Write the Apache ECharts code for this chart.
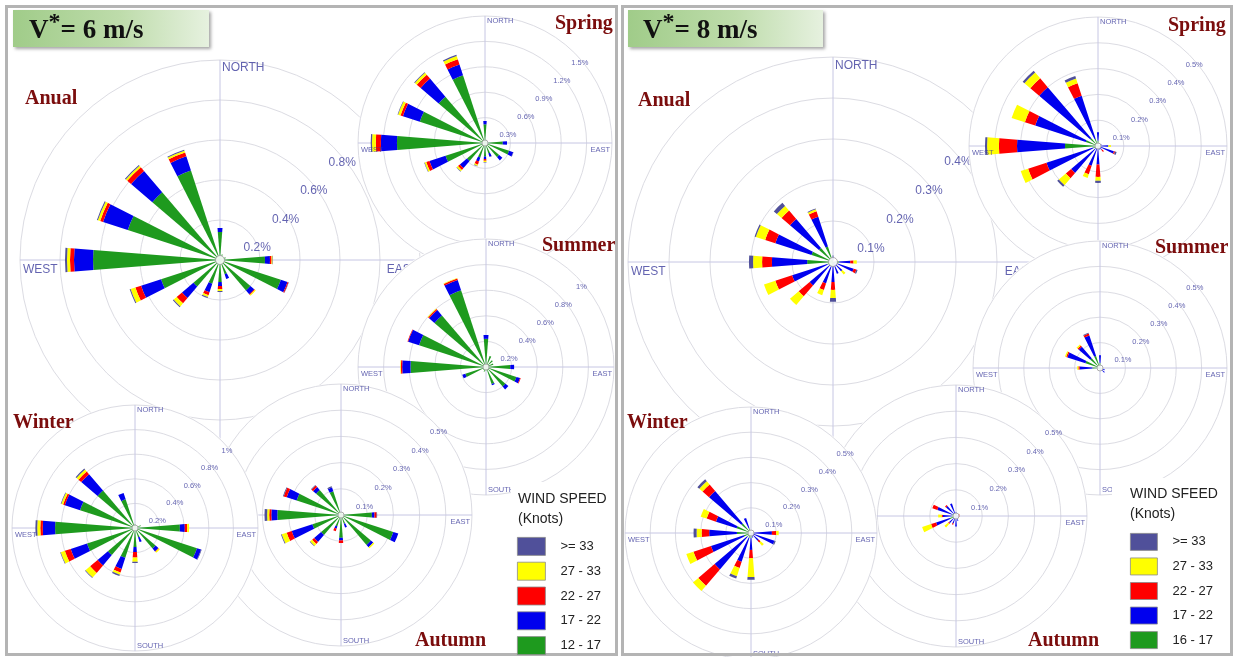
<!DOCTYPE html>
<html>
<head>
<meta charset="utf-8">
<script src="https://cdn.jsdelivr.net/npm/echarts@6/dist/echarts.min.js"></script>
<style>
html,body{margin:0;padding:0;background:#fff;}
#chart{width:1235px;height:657px;}
</style>
</head>
<body>
<div id="chart"></div>
<script>
// 16-point compass, clockwise from north
const DIRS = ['N','NNE','NE','ENE','E','ESE','SE','SSE','S','SSW','SW','WSW','W','WNW','NW','NNW'];
const DIR_KEYS = ['N','E','S','W'];
const DIR_LABELS = ['NORTH','EAST','SOUTH','WEST'];

// Wind speed classes (knots), innermost ring segment first
const CLASSES_6 = ['12 - 17','17 - 22','22 - 27','27 - 33','>= 33'];
const CLASSES_8 = ['16 - 17','17 - 22','22 - 27','27 - 33','>= 33'];
const CLASS_COLORS = ['#1e9a1e','#0000ee','#ff0000','#ffff00','#50509a'];

// Ring tick labels (% of time)
const TICKS_02 = [0.2,0.4,0.6,0.8,1];
const TICKS_03 = [0.3,0.6,0.9,1.2,1.5];
const TICKS_01 = [0.1,0.2,0.3,0.4,0.5];

// ---- V* = 6 m/s ----
// Anual
const anual6_c1 = [0.14,0.03,0.02,0.03,0.225,0.32,0.2,0.075,0.11,0.125,0.175,0.31,0.635,0.485,0.445,0.47];
const anual6_c2 = [0.02,0,0,0,0.025,0.035,0.025,0.025,0.02,0.045,0.075,0.105,0.095,0.13,0.14,0.075];
const anual6_c3 = [0,0,0,0,0.008,0.005,0.005,0,0.015,0.015,0.035,0.03,0.02,0.015,0.025,0.02];
const anual6_c4 = [0,0,0,0,0.005,0,0.005,0,0.01,0.01,0.02,0.025,0.015,0.012,0.01,0.01];
const anual6_c5 = [0,0,0,0,0.002,0.002,0,0,0.005,0.005,0.005,0.005,0.01,0.005,0.005,0.005];
// Spring
const spring6_c1 = [0.22,0.04,0.03,0.03,0.21,0.3,0.22,0.13,0.16,0.18,0.28,0.49,1.04,0.81,0.72,0.84];
const spring6_c2 = [0.04,0,0,0,0.05,0.05,0.05,0.04,0.03,0.05,0.11,0.2,0.19,0.21,0.28,0.135];
const spring6_c3 = [0,0,0,0,0,0,0,0,0.02,0.04,0.03,0.04,0.06,0.03,0.06,0.065];
const spring6_c4 = [0,0,0,0,0,0,0,0,0.015,0.015,0.02,0.02,0.045,0.03,0.03,0.04];
const spring6_c5 = [0,0,0,0,0,0.005,0,0.005,0.005,0.005,0.005,0.005,0.015,0.006,0.01,0.015];
// Summer
const summer6_c1 = [0.22,0.09,0.07,0.06,0.19,0.25,0.2,0.14,0.03,0.04,0.03,0.17,0.59,0.55,0.53,0.63];
const summer6_c2 = [0.03,0,0,0,0.03,0.03,0.03,0.01,0,0,0,0.025,0.065,0.09,0.055,0.085];
const summer6_c3 = [0,0,0,0,0,0.005,0,0,0,0,0,0,0.01,0.005,0.01,0.012];
const summer6_c4 = [0,0,0,0,0,0,0,0,0,0,0,0,0.005,0,0.005,0.005];
const summer6_c5 = [0,0,0,0,0,0,0,0,0,0,0,0,0,0,0,0];
// Autumn
const autumn6_c1 = [0.01,0.008,0.008,0.01,0.118,0.21,0.15,0.035,0.087,0.045,0.1,0.115,0.243,0.178,0.125,0.095];
const autumn6_c2 = [0,0,0,0,0.01,0.02,0.012,0.015,0.01,0.01,0.035,0.083,0.023,0.04,0.015,0.015];
const autumn6_c3 = [0,0,0,0,0.008,0,0,0,0.01,0.01,0.01,0.02,0.008,0.012,0.008,0];
const autumn6_c4 = [0,0,0,0,0,0,0.005,0,0,0,0.01,0.02,0.008,0,0,0];
const autumn6_c5 = [0,0,0,0,0.002,0,0,0,0,0,0.002,0.003,0.01,0.003,0.003,0.005];
// Winter
const winter6_c1 = [0.03,0.02,0.02,0.05,0.365,0.53,0.22,0.08,0.155,0.255,0.29,0.41,0.65,0.47,0.4,0.245];
const winter6_c2 = [0,0,0,0,0.04,0.035,0.03,0.04,0.04,0.095,0.11,0.14,0.1,0.13,0.175,0.055];
const winter6_c3 = [0,0,0,0,0.02,0,0.005,0,0.045,0.03,0.08,0.05,0.02,0.015,0.03,0];
const winter6_c4 = [0,0,0,0,0.015,0,0.01,0,0.035,0.02,0.05,0.035,0.025,0.015,0.02,0];
const winter6_c5 = [0,0,0,0,0,0.005,0,0,0.01,0.01,0.005,0.005,0.015,0.005,0.01,0];

// ---- V* = 8 m/s ----
// Anual
const anual8_c1 = [0.005,0,0,0,0.015,0.01,0.005,0.005,0.01,0.01,0.01,0.015,0.063,0.055,0.045,0.04];
const anual8_c2 = [0.008,0,0,0,0.027,0.043,0.025,0.025,0.039,0.045,0.065,0.09,0.086,0.093,0.093,0.076];
const anual8_c3 = [0,0,0,0,0.008,0.007,0,0,0.019,0.017,0.035,0.043,0.024,0.026,0.027,0.014];
const anual8_c4 = [0,0,0,0,0.008,0,0.01,0,0.02,0.013,0.028,0.029,0.022,0.024,0.015,0.005];
const anual8_c5 = [0.003,0,0,0,0,0.003,0,0,0.009,0,0,0,0.01,0.003,0.01,0.002];
// Spring
const spring8_c1 = [0.02,0.005,0.005,0.005,0.01,0.01,0,0,0.01,0.01,0.01,0.02,0.128,0.05,0.04,0.03];
const spring8_c2 = [0.033,0,0,0.01,0.03,0.055,0.02,0.015,0.062,0.07,0.127,0.19,0.186,0.206,0.26,0.175];
const spring8_c3 = [0,0,0,0,0,0.005,0.01,0,0.048,0.035,0.027,0.075,0.07,0.042,0.045,0.051];
const spring8_c4 = [0,0,0,0,0.01,0,0,0,0.015,0.015,0.036,0.03,0.046,0.054,0.03,0.019];
const spring8_c5 = [0,0,0,0,0,0.006,0,0,0.008,0,0.008,0,0.008,0,0.009,0.01];
// Summer
const summer8_c1 = [0.02,0.005,0.005,0,0.005,0.01,0.01,0,0.005,0.005,0.005,0.01,0.03,0.06,0.05,0.05];
const summer8_c2 = [0.03,0,0,0,0,0.01,0.015,0.01,0,0,0,0,0.05,0.075,0.06,0.085];
const summer8_c3 = [0,0,0,0,0,0,0,0,0,0,0,0,0.005,0.005,0.006,0.008];
const summer8_c4 = [0,0,0,0,0,0,0,0,0,0,0,0,0.005,0.005,0.006,0];
const summer8_c5 = [0,0,0,0,0,0,0,0,0,0,0,0,0,0,0,0.003];
// Autumn
const autumn8_c1 = [0.005,0,0,0,0,0,0,0,0.005,0,0.01,0.025,0.015,0.015,0.01,0.01];
const autumn8_c2 = [0.01,0.01,0.005,0.005,0.01,0.008,0.01,0.02,0.035,0.03,0.025,0.055,0.035,0.06,0.04,0.04];
const autumn8_c3 = [0,0,0,0.01,0.005,0,0,0,0,0.005,0.005,0.02,0.005,0.02,0.005,0];
const autumn8_c4 = [0,0,0,0,0,0,0,0,0,0,0.018,0.036,0.013,0,0,0];
const autumn8_c5 = [0,0,0,0,0,0,0,0,0,0,0,0,0,0,0,0];
// Winter
const winter8_c1 = [0.005,0,0,0,0.01,0.01,0,0,0.02,0.02,0.02,0.03,0.056,0.06,0.05,0.02];
const winter8_c2 = [0,0,0,0,0.073,0.088,0.04,0.02,0.047,0.1,0.17,0.137,0.11,0.086,0.169,0.043];
const winter8_c3 = [0,0,0,0,0.017,0,0.01,0,0.033,0.026,0.085,0.073,0.03,0.039,0.034,0];
const winter8_c4 = [0,0,0,0,0.01,0,0.017,0,0.075,0.034,0.028,0.03,0.02,0.025,0.017,0];
const winter8_c5 = [0,0,0,0,0,0.005,0,0,0.011,0.01,0,0,0.012,0,0.01,0];

// Rose layout, in drawing order within each panel (later ones sit on top)
const ROSES = [
  {title:'Anual',  titlePos:[25,89],   center:[220,260], radius:200, ticks:TICKS_02, big:true,  classes:CLASSES_6,
   values:[anual6_c1,anual6_c2,anual6_c3,anual6_c4,anual6_c5]},
  {title:'Spring', titlePos:[555,14],  center:[485,143], radius:127, ticks:TICKS_03, big:false, classes:CLASSES_6,
   values:[spring6_c1,spring6_c2,spring6_c3,spring6_c4,spring6_c5]},
  {title:'Summer', titlePos:[542,236], center:[486,367], radius:128, ticks:TICKS_02, big:false, classes:CLASSES_6,
   values:[summer6_c1,summer6_c2,summer6_c3,summer6_c4,summer6_c5]},
  {title:'Autumn', titlePos:[415,631], center:[341,515], radius:131, ticks:TICKS_01, big:false, classes:CLASSES_6,
   values:[autumn6_c1,autumn6_c2,autumn6_c3,autumn6_c4,autumn6_c5]},
  {title:'Winter', titlePos:[13,413],  center:[135,528], radius:123, ticks:TICKS_02, big:false, classes:CLASSES_6,
   values:[winter6_c1,winter6_c2,winter6_c3,winter6_c4,winter6_c5]},

  {title:'Anual',  titlePos:[638,91],   center:[833,262],  radius:205, ticks:TICKS_01, big:true,  classes:CLASSES_8,
   values:[anual8_c1,anual8_c2,anual8_c3,anual8_c4,anual8_c5]},
  {title:'Spring', titlePos:[1168,16],  center:[1098,146], radius:129, ticks:TICKS_01, big:false, classes:CLASSES_8,
   values:[spring8_c1,spring8_c2,spring8_c3,spring8_c4,spring8_c5]},
  {title:'Summer', titlePos:[1155,238], center:[1100,368], radius:127, ticks:TICKS_01, big:false, classes:CLASSES_8,
   values:[summer8_c1,summer8_c2,summer8_c3,summer8_c4,summer8_c5]},
  {title:'Autumn', titlePos:[1028,631], center:[956,516],  radius:131, ticks:TICKS_01, big:false, classes:CLASSES_8,
   values:[autumn8_c1,autumn8_c2,autumn8_c3,autumn8_c4,autumn8_c5]},
  {title:'Winter', titlePos:[627,413],  center:[751,533],  radius:126, ticks:TICKS_01, big:false, classes:CLASSES_8,
   values:[winter8_c1,winter8_c2,winter8_c3,winter8_c4,winter8_c5]}
];

const SANS = '"Liberation Sans", Arial, sans-serif';
const SERIF = '"Liberation Serif", "Times New Roman", serif';
const AXIS_TEXT = '#3c3c9c';
const RING = '#dcdce3';
const CROSS = '#c6c6e3';

const polar = [], angleAxis = [], radiusAxis = [], series = [], title = [];

ROSES.forEach(function (rose, i) {
  const layer = i % 5;
  const base = layer * 10;
  const max = rose.ticks[rose.ticks.length - 1];
  const step = rose.ticks[0];
  const fs = rose.big ? 12 : 7.5;
  const gridIdx = 2 * i;      // full rings + N/E/S/W cross
  const dataIdx = 2 * i + 1;  // 16-sector bars and labels

  polar.push({center: rose.center, radius: rose.radius});
  polar.push({center: rose.center, radius: rose.radius});

  // grid polar
  angleAxis.push({
    polarIndex: gridIdx, type: 'value', min: 0, max: 360, interval: 90,
    startAngle: 90, clockwise: true, z: base + 2,
    axisLine: {show: false}, axisTick: {show: false}, axisLabel: {show: false},
    splitLine: {show: true, lineStyle: {color: CROSS, width: 1}}
  });
  radiusAxis.push({
    polarIndex: gridIdx, type: 'value', min: 0, max: max, interval: step, z: base + 2,
    axisLine: {show: false}, axisTick: {show: false}, axisLabel: {show: false},
    splitLine: {show: true, lineStyle: {color: RING, width: 1}}
  });

  // data polar (axes not drawn)
  angleAxis.push({
    polarIndex: dataIdx, type: 'category', data: DIRS, boundaryGap: false,
    startAngle: 90, clockwise: true, show: false
  });
  radiusAxis.push({
    polarIndex: dataIdx, type: 'value', min: 0, max: max, interval: step, show: false
  });

  // white backing disc so this rose hides whatever lies beneath it
  if (layer > 0) {
    series.push({
      type: 'pie', center: rose.center, radius: rose.radius + 1, silent: true,
      label: {show: false}, labelLine: {show: false}, emphasis: {disabled: true},
      itemStyle: {color: '#ffffff', borderWidth: 0},
      data: [{value: 1}], z: base + 1
    });
  }

  rose.values.forEach(function (vals, c) {
    series.push({
      type: 'bar', coordinateSystem: 'polar', polarIndex: dataIdx,
      name: rose.classes[c], stack: 'rose' + i, data: vals,
      barWidth: '40%', silent: true,
      itemStyle: {color: CLASS_COLORS[c]}, z: base + 3
    });
  });

  // calm circle at the centre
  series.push({
    type: 'scatter', coordinateSystem: 'polar', polarIndex: dataIdx, silent: true,
    data: [[0, 'N']], symbol: 'circle', symbolSize: rose.big ? 9 : 6,
    itemStyle: {color: '#ffffff', borderColor: '#9a9a9a', borderWidth: 1}, z: base + 4
  });

  // compass words and ring percentages
  const labelItems = [];
  DIR_KEYS.forEach(function (key, d) {
    const item = {name: DIR_LABELS[d]};
    const dy = rose.big ? 4 : 3;
    if (key === 'N' || key === 'S') {
      item.value = [max * 0.96, key];
      item.label = {align: 'left', verticalAlign: 'middle', offset: [2, 0]};
    } else if (key === 'E') {
      item.value = [max, key];
      item.label = {align: 'right', verticalAlign: 'top', offset: [-2, dy]};
    } else {
      item.value = [max, key];
      item.label = {align: 'left', verticalAlign: 'top', offset: [3, dy]};
    }
    labelItems.push(item);
  });
  rose.ticks.forEach(function (t) {
    labelItems.push({
      name: t + '%', value: [t, 'NE'],
      label: {align: 'center', verticalAlign: 'middle', offset: rose.big ? [9, 16] : [5, 10]}
    });
  });
  series.push({
    type: 'scatter', coordinateSystem: 'polar', polarIndex: dataIdx, silent: true,
    symbolSize: 1, itemStyle: {color: 'rgba(0,0,0,0)'},
    label: {show: true, position: 'inside', formatter: '{b}', color: AXIS_TEXT,
            fontSize: fs, fontFamily: SANS},
    data: labelItems, z: base + 4
  });

  title.push({
    text: rose.title, left: rose.titlePos[0], top: rose.titlePos[1], padding: 0, z: 130,
    textStyle: {fontFamily: SERIF, fontWeight: 'bold', fontSize: 20, color: '#7b0d0d'}
  });
});

// panel headings
const PANELS = [
  {speed: '6', boxX: 13, textX: 29},
  {speed: '8', boxX: 628, textX: 643}
];
PANELS.forEach(function (p) {
  title.push({
    text: '{v|V}{s|*}{t|= ' + p.speed + ' m/s}', left: p.textX, top: 11, padding: 0, z: 140,
    textStyle: {
      rich: {
        v: {fontFamily: SERIF, fontWeight: 'bold', fontSize: 27, color: '#111', lineHeight: 34, verticalAlign: 'bottom'},
        s: {fontFamily: SERIF, fontWeight: 'bold', fontSize: 24, color: '#111', lineHeight: 34, verticalAlign: 'top'},
        t: {fontFamily: SERIF, fontWeight: 'bold', fontSize: 27, color: '#111', lineHeight: 34, verticalAlign: 'bottom'}
      }
    }
  });
});

// legend headings
title.push({text: 'WIND SPEED\n(Knots)', left: 518, top: 489, padding: 0, z: 130,
  textStyle: {fontFamily: SANS, fontWeight: 'normal', fontSize: 14, lineHeight: 20, color: '#222'}});
title.push({text: 'WIND SFEED\n(Knots)', left: 1130, top: 484, padding: 0, z: 130,
  textStyle: {fontFamily: SANS, fontWeight: 'normal', fontSize: 14, lineHeight: 20, color: '#222'}});

const legendCommon = {
  orient: 'vertical', icon: 'rect', selectedMode: false, z: 130, padding: 0, height: 140,
  itemStyle: {borderColor: '#8a8a8a', borderWidth: 0.8},
  textStyle: {fontFamily: SANS, fontSize: 13, lineHeight: 16, color: '#222', padding: [0, 0, 0, 10]}
};

const option = {
  animation: false,
  backgroundColor: '#ffffff',
  title: title,
  polar: polar,
  angleAxis: angleAxis,
  radiusAxis: radiusAxis,
  legend: [
    Object.assign({}, legendCommon, {data: CLASSES_6.slice().reverse(), left: 517, top: 537,
      itemWidth: 28, itemHeight: 18, itemGap: 6}),
    Object.assign({}, legendCommon, {data: CLASSES_8.slice().reverse(), left: 1130, top: 533,
      itemWidth: 27, itemHeight: 17, itemGap: 6.75})
  ],
  graphic: [
    // legend backgrounds
    {type: 'rect', shape: {x: 511, y: 482, width: 104, height: 171}, style: {fill: '#ffffff'}, z: 110, silent: true},
    {type: 'rect', shape: {x: 1112, y: 478, width: 118, height: 175}, style: {fill: '#ffffff'}, z: 110, silent: true},
    // panel frames
    {type: 'rect', shape: {x: 6.5, y: 6.5, width: 610, height: 648}, style: {fill: 'none', stroke: '#b4b4b4', lineWidth: 3}, z: 120, silent: true},
    {type: 'rect', shape: {x: 622.5, y: 6.5, width: 609, height: 648}, style: {fill: 'none', stroke: '#b4b4b4', lineWidth: 3}, z: 120, silent: true},
    // heading boxes
    {type: 'rect', shape: {x: PANELS[0].boxX, y: 10, width: 196, height: 37}, z: 125, silent: true,
     style: {fill: {type: 'linear', x: 0, y: 0, x2: 1, y2: 0,
       colorStops: [{offset: 0, color: '#a0cc89'}, {offset: 0.55, color: '#bedcab'}, {offset: 1, color: '#e6f1df'}]},
       shadowBlur: 3, shadowOffsetX: 2, shadowOffsetY: 2, shadowColor: 'rgba(0,0,0,0.35)'}},
    {type: 'rect', shape: {x: PANELS[1].boxX, y: 10, width: 195, height: 37}, z: 125, silent: true,
     style: {fill: {type: 'linear', x: 0, y: 0, x2: 1, y2: 0,
       colorStops: [{offset: 0, color: '#a0cc89'}, {offset: 0.55, color: '#bedcab'}, {offset: 1, color: '#e6f1df'}]},
       shadowBlur: 3, shadowOffsetX: 2, shadowOffsetY: 2, shadowColor: 'rgba(0,0,0,0.35)'}}
  ],
  series: series
};

const chart = echarts.init(document.getElementById('chart'));
chart.setOption(option);
</script>
</body>
</html>
